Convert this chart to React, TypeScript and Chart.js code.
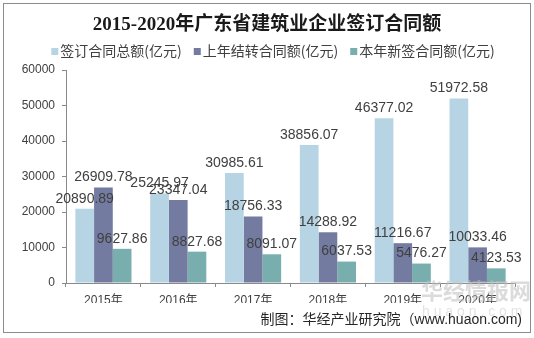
import React, { useEffect, useRef } from "react";
import { Chart, registerables } from "chart.js";

Chart.register(...registerables);

const categories = ["2015年", "2016年", "2017年", "2018年", "2019年", "2020年"];
const totalContract = [20890.89, 25245.97, 30985.61, 38856.07, 46377.02, 51972.58];
const carriedOver = [26909.78, 23347.04, 18756.33, 14288.92, 11216.67, 10033.46];
const newContract = [9627.86, 8827.68, 8091.07, 6037.53, 5476.27, 4123.53];
const seriesNames = ["签订合同总额(亿元)", "上年结转合同额(亿元)", "本年新签合同额(亿元)"];
const seriesColors = ["#B7D4E5", "#747BA0", "#78AFAE"];
const yMin = 0;
const yMax = 60000;
const yStep = 10000;
const titleText = "2015-2020年广东省建筑业企业签订合同额";
const sourceText = "制图：华经产业研究院（www.huaon.com)";
const watermarkMain = "华经情报网";
const watermarkSub = "huaon.com";

const SANS = '"Liberation Sans", "Noto Sans CJK SC", sans-serif';
const CJK = '"Noto Sans CJK SC", "Liberation Sans", sans-serif';
const TITLE_FONT = 'bold 19px "Liberation Serif", "Noto Sans CJK SC", serif';

Chart.defaults.font.family = SANS;
Chart.defaults.font.size = 12;
Chart.defaults.color = "#404040";

const decorPlugin = {
  id: "decor",
  beforeDraw(chart: any) {
    const ctx = chart.ctx;
    ctx.save();
    ctx.fillStyle = "#ffffff";
    ctx.fillRect(0, 0, chart.width, chart.height);
    ctx.restore();
  },
  afterDatasetsDraw(chart: any) {
    const ctx = chart.ctx;
    ctx.save();
    ctx.font = "14px " + SANS;
    ctx.fillStyle = "#404040";
    ctx.textAlign = "center";
    ctx.textBaseline = "middle";
    chart.data.datasets.forEach((ds: any, di: number) => {
      const meta = chart.getDatasetMeta(di);
      meta.data.forEach((bar: any, i: number) => {
        const v = ds.data[i];
        ctx.fillText(v.toFixed(2), bar.x, bar.y - 10);
      });
    });
    ctx.restore();
  },
  afterDraw(chart: any) {
    const ctx = chart.ctx;
    ctx.save();
    // frame
    ctx.strokeStyle = "#8c8c8c";
    ctx.lineWidth = 1;
    ctx.strokeRect(3.5, 3.5, 527, 329);

    // title
    ctx.font = TITLE_FONT;
    ctx.fillStyle = "#1a1a1a";
    ctx.textAlign = "center";
    ctx.textBaseline = "middle";
    ctx.fillText(titleText, 267, 25);

    // legend
    ctx.font = "14px " + CJK;
    ctx.textAlign = "left";
    ctx.textBaseline = "middle";
    const box = 7;
    const gap = 2;
    const spacing = 12;
    const widths = chart.data.datasets.map((d: any) => ctx.measureText(d.label).width);
    const total =
      widths.reduce((a: number, b: number) => a + b, 0) +
      widths.length * (box + gap) +
      (widths.length - 1) * spacing;
    let x = 273 - total / 2;
    const ly = 51;
    chart.data.datasets.forEach((d: any, i: number) => {
      ctx.fillStyle = d.backgroundColor;
      ctx.fillRect(x, ly - 3, box, box);
      ctx.fillStyle = "#404040";
      ctx.fillText(d.label, x + box + gap, ly);
      x += box + gap + widths[i] + spacing;
    });

    // watermark
    ctx.fillStyle = "rgba(190,190,190,0.55)";
    ctx.font = "bold 22px " + CJK;
    ctx.textAlign = "left";
    ctx.fillText(watermarkMain, 421, 291);
    ctx.font = "14px " + SANS;
    ctx.fillStyle = "rgba(200,200,200,0.5)";
    ctx.fillText(watermarkSub.split("").join(" "), 422, 312);

    // source
    ctx.font = "14px " + SANS;
    ctx.fillStyle = "#262626";
    ctx.textAlign = "right";
    ctx.textBaseline = "middle";
    ctx.fillText(sourceText, 522, 320);
    ctx.restore();
  },
};

export default function App() {
  const ref = useRef<HTMLCanvasElement | null>(null);

  useEffect(() => {
    if (!ref.current) return;
    const chart = new Chart(ref.current, {
      type: "bar",
      data: {
        labels: categories,
        datasets: [
          { label: seriesNames[0], data: totalContract, backgroundColor: seriesColors[0] },
          { label: seriesNames[1], data: carriedOver, backgroundColor: seriesColors[1] },
          { label: seriesNames[2], data: newContract, backgroundColor: seriesColors[2] },
        ],
      },
      options: {
        animation: false,
        responsive: false,
        devicePixelRatio: 1,
        font: { family: SANS, size: 12 },
        layout: { padding: { top: 70, left: 0, right: 19, bottom: 35 } },
        datasets: { bar: { categoryPercentage: 0.75, barPercentage: 1 } },
        plugins: {
          legend: { display: false },
          title: { display: false },
          tooltip: { enabled: false },
        },
        scales: {
          x: {
            afterFit: (s: any) => {
              s.height = 20;
            },
            grid: {
              offset: true,
              drawOnChartArea: false,
              drawTicks: true,
              tickLength: 4,
              color: "#898989",
            },
            border: { display: true, color: "#898989" },
            ticks: {
              padding: 6,
              color: "#404040",
              font: { size: 12, family: SANS },
            },
          },
          y: {
            min: yMin,
            max: yMax,
            afterFit: (s: any) => {
              s.width = 66;
            },
            grid: {
              drawOnChartArea: false,
              drawTicks: true,
              tickLength: 4,
              color: "#898989",
            },
            border: { display: true, color: "#898989" },
            ticks: {
              stepSize: yStep,
              padding: 7,
              color: "#404040",
              font: { size: 12, family: SANS },
              callback: (v: any) => String(v),
            },
          },
        },
      },
      plugins: [decorPlugin],
    });
    return () => chart.destroy();
  }, []);

  return (
    <div style={{ position: "fixed", left: 0, top: 0, width: 534, height: 338, background: "#fff" }}>
      <canvas ref={ref} width={534} height={338} style={{ width: 534, height: 338, display: "block" }} />
    </div>
  );
}
